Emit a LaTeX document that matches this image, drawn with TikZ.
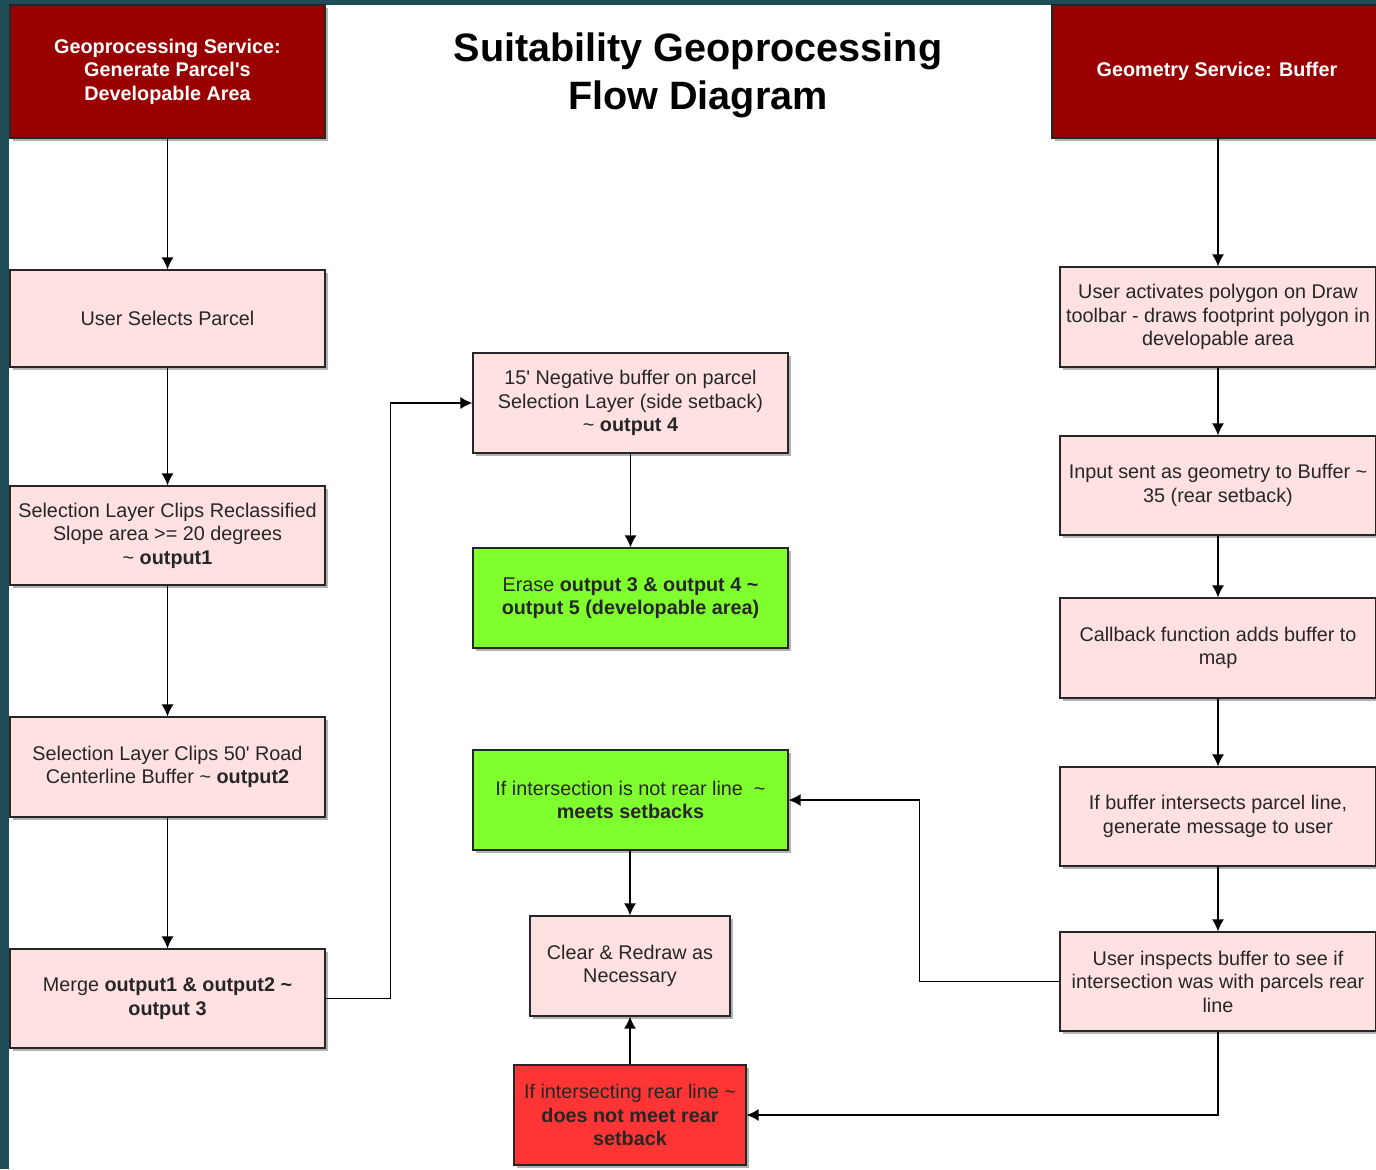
\documentclass[tikz,border=0pt]{standalone}
\usepackage{fontspec}
\setmainfont{Liberation Sans}
\usepackage{tikz}
\definecolor{darkred}{HTML}{990000}
\definecolor{palepink}{HTML}{FFE1E1}
\definecolor{limegreen}{HTML}{80FF2E}
\definecolor{brightred}{HTML}{FF3535}
\definecolor{slidebg}{HTML}{1E4D57}
\definecolor{boxtext}{HTML}{262626}
\usetikzlibrary{calc,arrows.meta,shadows}

\begin{document}
\begin{tikzpicture}[x=0.5pt, y=-0.5pt,
    box/.style={draw=black!85, line width=0.6pt, fill=palepink, align=center,
        text=boxtext, font=\fontsize{9.9}{11.75}\selectfont, inner sep=1pt,
        drop shadow={shadow xshift=1.5pt, shadow yshift=-1.5pt, opacity=0.3, fill=black}},
    header/.style={box, fill=darkred, text=white, font=\fontsize{9.9}{11.75}\selectfont\bfseries},
    flow/.style={line width=0.7pt, -{Latex[length=6pt,width=6pt]}}]
    \useasboundingbox (0,0) rectangle (1376,1169);
    \fill[slidebg] (0,0) rectangle (1376,1169);
    \fill[white] (9,5) rectangle (1376,1169);

    % title
    \node[align=center, font=\fontsize{19.8}{24}\selectfont\bfseries] (title) at (698,75)
        {Suitability Geoprocessing\\Flow Diagram};

    % left column
    \node[header, minimum width=157.5pt, minimum height=66.5pt] (geo) at (167.5,71.5)
        {Geoprocessing Service:\\Generate Parcel\textquotesingle s\\Developable Area};
    \node[box, minimum width=157.5pt, minimum height=48.5pt] (sel) at (167.5,318.5)
        {User Selects Parcel};
    \node[box, minimum width=157.5pt, minimum height=49.5pt] (clipa) at (167.5,535.5)
        {Selection Layer Clips Reclassified\\Slope area >= 20 degrees\\\textasciitilde{} \textbf{output1}};
    \node[box, minimum width=157.5pt, minimum height=50pt] (clipb) at (167.5,767)
        {Selection Layer Clips 50\textquotesingle{} Road\\Centerline Buffer \textasciitilde{} \textbf{output2}};
    \node[box, minimum width=157.5pt, minimum height=49.5pt] (merge) at (167.5,998.5)
        {Merge \textbf{output1 \& output2 \textasciitilde}\\\textbf{output 3}};

    % middle column
    \node[box, minimum width=157.5pt, minimum height=50pt] (neg) at (630.5,403)
        {15\textquotesingle{} Negative buffer on parcel\\Selection Layer (side setback)\\\textasciitilde{} \textbf{output 4}};
    \node[box, fill=limegreen, minimum width=157.5pt, minimum height=50pt] (erase) at (630.5,598)
        {Erase \textbf{output 3 \& output 4 \textasciitilde}\\\textbf{output 5 (developable area)}};
    \node[box, fill=limegreen, minimum width=157.5pt, minimum height=50pt] (notrear) at (630.5,800)
        {If intersection is not rear line\ \ \textasciitilde\\\textbf{meets setbacks}};
    \node[box, minimum width=100pt, minimum height=50pt] (clear) at (630,966)
        {Clear \& Redraw as\\Necessary};
    \node[box, fill=brightred, minimum width=116pt, minimum height=50pt] (rear) at (630,1115)
        {If intersecting rear line \textasciitilde\\\textbf{does not meet rear}\\\textbf{setback}};

    % right column
    \node[header, minimum width=165pt, minimum height=66.5pt] (buf) at (1217,71.5)
        {Geometry Service: Buffer};
    \node[box, minimum width=158pt, minimum height=50pt] (poly) at (1218,317)
        {User activates polygon on Draw\\toolbar - draws footprint polygon in\\developable area};
    \node[box, minimum width=158pt, minimum height=49.5pt] (input) at (1218,485.5)
        {Input sent as geometry to Buffer \textasciitilde\\35 (rear setback)};
    \node[box, minimum width=158pt, minimum height=50pt] (callback) at (1218,648)
        {Callback function adds buffer to\\map};
    \node[box, minimum width=158pt, minimum height=49.5pt] (ifbuf) at (1218,816.5)
        {If buffer intersects parcel line,\\generate message to user};
    \node[box, minimum width=158pt, minimum height=49.5pt] (inspect) at (1218,981.5)
        {User inspects buffer to see if\\intersection was with parcels rear\\line};

    % connectors
    \draw[flow] (geo) -- (sel);
    \draw[flow] (sel) -- (clipa);
    \draw[flow] (clipa) -- (clipb);
    \draw[flow] (clipb) -- (merge);
    \draw[flow] (merge.east) -- ++(65,0) |- (neg.west);
    \draw[flow] (neg) -- (erase);
    \draw[flow] (buf.south -| poly.north) -- (poly);
    \draw[flow] (poly) -- (input);
    \draw[flow] (input) -- (callback);
    \draw[flow] (callback) -- (ifbuf);
    \draw[flow] (ifbuf) -- (inspect);
    \draw[flow] (inspect.west) -- ++(-140,0) |- (notrear.east);
    \draw[flow] (inspect.south) |- (rear.east);
    \draw[flow] (notrear.south -| clear.north) -- (clear);
    \draw[flow] (rear) -- (clear);
\end{tikzpicture}
\end{document}
